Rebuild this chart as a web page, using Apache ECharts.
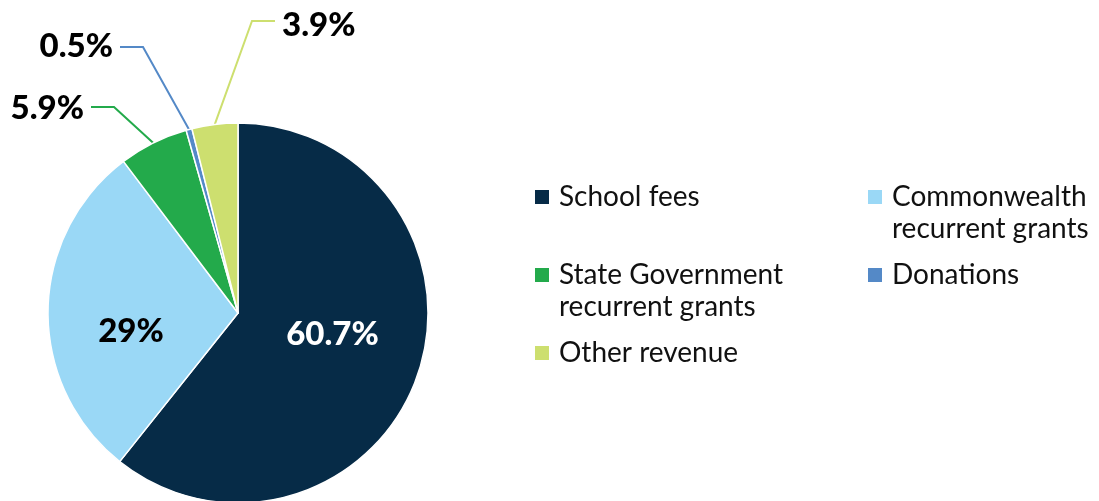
<!DOCTYPE html>
<html>
<head>
<meta charset="utf-8">
<title>Revenue sources</title>
<script src="https://cdn.jsdelivr.net/npm/echarts@6/dist/echarts.min.js"></script>
<style>
  html, body { margin: 0; padding: 0; background: #ffffff; }
  #chart { width: 1099px; height: 501px; }
</style>
</head>
<body>
<div id="chart"></div>
<script>
// Revenue sources, share of total (%)
const categories = [
  'School fees',
  'Commonwealth recurrent grants',
  'State Government recurrent grants',
  'Donations',
  'Other revenue'
];
const shares = [60.7, 29, 5.9, 0.5, 3.9];
const sliceColors = ['#062b47', '#9ad8f6', '#23aa4b', '#5489c7', '#cddf6f'];

// Per-slice label styling: the two large slices carry their value inside
const insideLabels = {
  0: { color: '#ffffff', offset: [2, -11] },
  1: { color: '#000000', offset: [-9, 20] }
};

// Callout placement for the thin slices (label anchor and leader elbow row)
const callouts = {
  2: { x: 84, y: 108, lineY: 107, side: 'left' },
  3: { x: 113, y: 46, lineY: 47, side: 'left' },
  4: { x: 282, y: 25, lineY: 21, side: 'right' }
};

const FONT = 'Lato, "Noto Sans", sans-serif';

const pieData = categories.map(function (name, i) {
  const item = { name: name, value: shares[i], itemStyle: { color: sliceColors[i] } };
  if (insideLabels[i]) {
    item.label = {
      position: 'inside',
      color: insideLabels[i].color,
      offset: insideLabels[i].offset
    };
    item.labelLine = { show: false };
  }
  return item;
});

// Long names wrap onto a second line; a leading blank line keeps the
// first text line level with the legend swatch.
const legendText = function (name) {
  if (name.indexOf(' recurrent') > 0) {
    return '\n' + name.replace(' recurrent', '\nrecurrent');
  }
  return name;
};

const chart = echarts.init(document.getElementById('chart'), null, { renderer: 'canvas' });

chart.setOption({
  animation: false,
  backgroundColor: '#ffffff',
  legend: {
    data: categories,
    orient: 'horizontal',
    left: 533,
    top: 149,
    width: 800,
    padding: 0,
    itemGap: -18,
    itemWidth: 16,
    itemHeight: 16,
    icon: 'rect',
    selectedMode: false,
    formatter: legendText,
    textStyle: {
      fontFamily: FONT,
      fontSize: 28,
      color: '#111111',
      lineHeight: 32,
      width: 325,
      padding: [0, 0, 0, 4]
    }
  },
  series: [{
    type: 'pie',
    center: [238, 313],
    radius: 190,
    startAngle: 90,
    clockwise: true,
    avoidLabelOverlap: false,
    data: pieData,
    itemStyle: { borderColor: '#ffffff', borderWidth: 1.5 },
    emphasis: { disabled: true },
    label: {
      show: true,
      position: 'outside',
      formatter: '{c}%',
      fontFamily: FONT,
      fontSize: 33,
      fontWeight: 900,
      color: '#000000'
    },
    labelLine: {
      show: true,
      length: 20,
      length2: 20,
      lineStyle: { width: 2 }
    },
    labelLayout: function (params) {
      const p = callouts[params.dataIndex];
      if (!p || !params.labelLinePoints) {
        return {};
      }
      const dir = p.side === 'left' ? 1 : -1;
      const lineStart = p.x + dir * 7;
      const elbow = lineStart + dir * 23;
      return {
        x: p.x,
        y: p.y,
        align: p.side === 'left' ? 'right' : 'left',
        verticalAlign: 'middle',
        labelLinePoints: [
          params.labelLinePoints[0],
          [elbow, p.lineY],
          [lineStart, p.lineY]
        ]
      };
    }
  }]
});
</script>
</body>
</html>
